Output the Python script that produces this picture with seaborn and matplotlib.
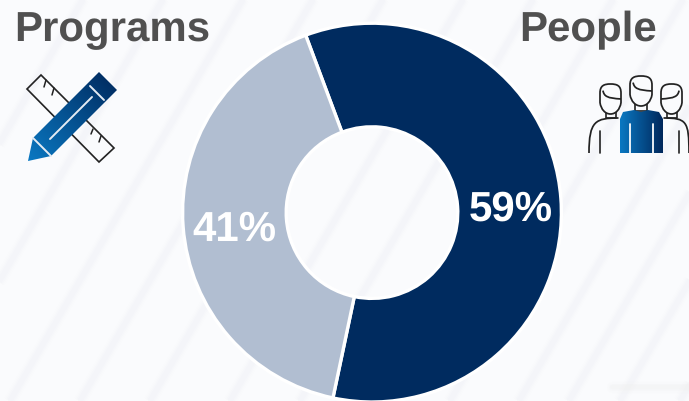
import numpy as np
import matplotlib
matplotlib.use("Agg")
import matplotlib.pyplot as plt
from matplotlib.colors import LinearSegmentedColormap
from matplotlib.patches import Polygon, PathPatch
from matplotlib.path import Path
import seaborn as sns

# Share of the total by category
categories = ["People", "Programs"]
shares = [59, 41]
share_labels = ["59%", "41%"]
ring_colors = ["#002b5f", "#b1bed1"]

sns.set_theme(style="white")
plt.rcParams["font.family"] = ["Liberation Sans", "DejaVu Sans"]
plt.rcParams["text.hinting"] = "no_hinting"
plt.rcParams["text.hinting_factor"] = 1

W, H = 689, 402
BG = "#fafbfd"
INK = "#222222"
fig = plt.figure(figsize=(W / 100, H / 100), dpi=100, facecolor=BG)

# Full-figure canvas in pixel units for the backdrop and the icons
canvas = fig.add_axes([0, 0, 1, 1], zorder=1)
canvas.set_xlim(0, W)
canvas.set_ylim(H, 0)
canvas.axis("off")

# Soft diagonal stripes in the backdrop, built up from stacked translucent lines
stripe_feet = [-150, -70, 10, 80, 150, 230, 300, 380, 450, 519, 569, 620, 680, 745]
for x0 in stripe_feet:
    for lw, alpha in [(9, 0.04), (7, 0.05), (5, 0.06), (3, 0.06)]:
        canvas.plot([x0, x0 + 0.58 * H], [H, 0], color="#e4e6ea", lw=lw,
                    alpha=alpha, solid_capstyle="butt", zorder=0)
for lw, alpha in [(8, 0.08), (5, 0.1), (3, 0.12)]:
    canvas.plot([612, W], [388, 388], color="#ecece8", lw=lw, alpha=alpha, zorder=0)

icon_cmap = LinearSegmentedColormap.from_list("icon", ["#0a78c2", "#00285c"])


def gradient_fill(patch, extent, diagonal=True):
    """Fill a clip patch with the blue icon gradient."""
    canvas.add_patch(patch)
    xx, yy = np.meshgrid(np.linspace(0, 1, 80), np.linspace(0, 1, 80))
    grad = (xx + (1 - yy)) / 2 if diagonal else 0.12 + 0.88 * xx
    im = canvas.imshow(grad, cmap=icon_cmap, extent=extent, origin="upper",
                       aspect="auto", zorder=4, interpolation="bilinear")
    im.set_clip_path(patch)
    canvas.set_xlim(0, W)
    canvas.set_ylim(H, 0)


# Ruler behind the pencil
canvas.add_patch(Polygon([(27, 90), (41, 76), (114, 149), (99, 163)], closed=True,
                         fc="none", ec=INK, lw=1.2, zorder=3))
for (a, b) in [((46, 81), (44, 88)), ((54, 89), (52, 96)), ((93, 130), (91, 135)),
               ((101, 137), (99, 143))]:
    canvas.plot([a[0], b[0]], [a[1], b[1]], color=INK, lw=1.1, zorder=3)

# Pencil
pencil = Polygon([(28, 162), (33, 139), (99, 73), (117, 91), (51, 157)], closed=True,
                 fc="none", ec="none", zorder=4)
gradient_fill(pencil, (28, 117, 162, 73))
for seg in [[(33, 139), (51, 157)], [(90, 87), (104, 101)], [(50, 140), (92, 98)]]:
    canvas.plot(*zip(*seg), color="#e4ebf3", lw=1.4, zorder=5)


def head(cx, top, w, h, hair_side):
    """Head outline tapering to the chin, with a hairline curve on one side."""
    x = lambda u: cx + u * w / 2
    y = lambda v: top + v * h
    verts = [(x(-1), y(0.3)),
             (x(-1), y(0.05)), (x(-0.6), y(0)), (x(0), y(0)),
             (x(0.6), y(0)), (x(1), y(0.05)), (x(1), y(0.3)),
             (x(1), y(0.45)), (x(1), y(0.55)), (x(1), y(0.62)),
             (x(0.9), y(0.85)), (x(0.5), y(1)), (x(0), y(1)),
             (x(-0.5), y(1)), (x(-0.9), y(0.85)), (x(-1), y(0.62)),
             (x(-1), y(0.55)), (x(-1), y(0.45)), (x(-1), y(0.3))]
    codes = [Path.MOVETO] + [Path.CURVE4] * 18
    canvas.add_patch(PathPatch(Path(verts, codes), fc=BG, ec=INK, lw=1.25, zorder=3))
    s = hair_side
    hair = [(x(-0.72 * s), y(0.22)), (x(-0.6 * s), y(0.42)), (x(-0.3 * s), y(0.47)), (x(1.0 * s), y(0.5))]
    canvas.add_patch(PathPatch(Path(hair, [Path.MOVETO] + [Path.CURVE4] * 3), fc="none",
                               ec=INK, lw=1.25, zorder=3))


# People icon: two outlined figures with a filled one in front
for cx, sign, outer, arm in [(610.5, -1, 589, 600), (671.5, 1, 689, 679)]:
    inner = cx - sign * 8
    verts = [(inner, 119), (cx + sign * 15, 119), (outer, 122), (outer, 154)]
    canvas.add_patch(PathPatch(Path(verts, [Path.MOVETO] + [Path.CURVE4] * 3), fc="none",
                               ec=INK, lw=1.25, zorder=3))
    canvas.plot([arm, arm], [132, 154], color=INK, lw=1.2, zorder=3)
    canvas.plot([cx - 5, cx - 5, cx + 5, cx + 5], [113, 119, 119, 113], color=INK, lw=1.2, zorder=3)
    head(cx, 85, 21, 30, -sign)
canvas.plot([635, 635, 647, 647], [104, 112, 112, 104], color=INK, lw=1.2, zorder=3)
head(641, 77, 22, 30, 1)

body_outline = [(620, 154), (620, 120), (623, 113), (634, 111), (641, 113), (648, 111),
                (659, 113), (663, 120), (663, 154)]
body = Polygon(body_outline, closed=True, fc="none", ec="none", zorder=4)
gradient_fill(body, (620, 663, 154, 111), diagonal=False)
for x in (629.5, 653):
    canvas.plot([x, x], [125, 154], color=BG, lw=1.3, zorder=5)

# Donut, sized so its outer edge runs just inside the chart's bottom
R, cx_px, cy_px = 189.4, 372, 213.6
pad = R + 6
pie_ax = fig.add_axes([(cx_px - pad) / W, (H - cy_px - pad) / H, 2 * pad / W, 2 * pad / H],
                      zorder=2)
pie_ax.pie(shares, colors=ring_colors, startangle=110.5, counterclock=False, radius=1,
           wedgeprops=dict(width=0.547, edgecolor="white", linewidth=2.4))
pie_ax.set_xlim(-pad / R, pad / R)
pie_ax.set_ylim(-pad / R, pad / R)
pie_ax.patch.set_alpha(0)

# Text layer on top of everything
top = fig.add_axes([0, 0, 1, 1], zorder=3)
top.set_xlim(0, W)
top.set_ylim(H, 0)
top.axis("off")
top.patch.set_alpha(0)
text_style = dict(fontsize=30.2, fontweight="bold", va="baseline")
top.text(14, 41.5, categories[1], color="#505050", ha="left", **text_style)
top.text(657, 41.5, categories[0], color="#505050", ha="right", **text_style)
top.text(510.5, 220.5, share_labels[0], color="white", ha="center", **text_style)
top.text(234.3, 240.5, share_labels[1], color="white", ha="center", **text_style)

fig.savefig("out.png", dpi=100, facecolor=fig.get_facecolor())
